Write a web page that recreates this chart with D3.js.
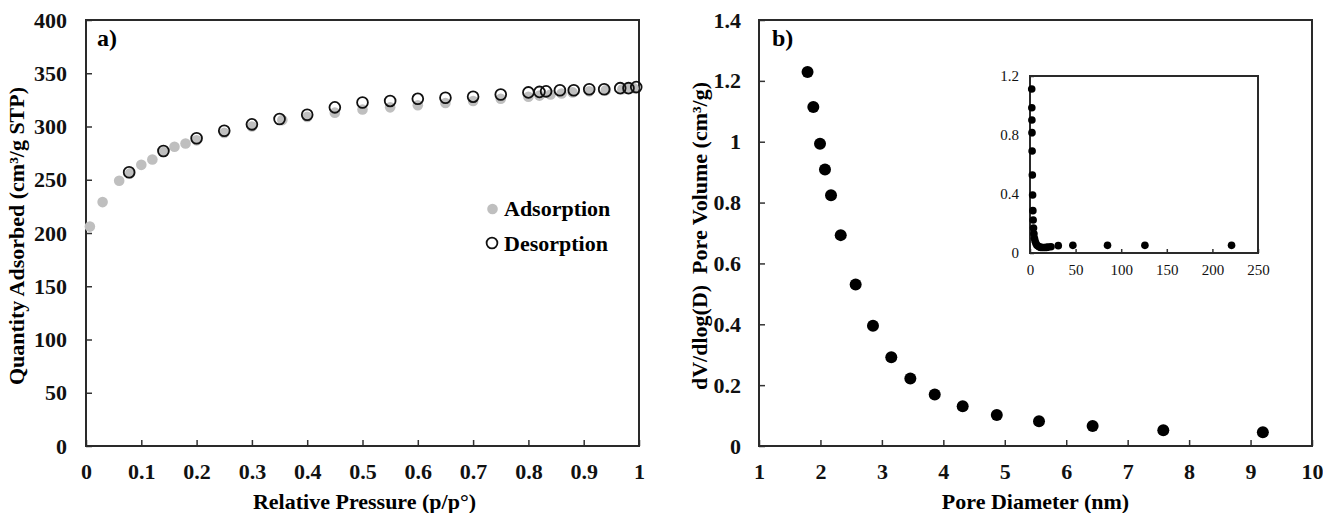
<!DOCTYPE html>
<html><head><meta charset="utf-8">
<script src="https://cdn.jsdelivr.net/npm/d3@7"></script>
<style>
html,body{margin:0;padding:0;background:#fff;}
text{font-family:"Liberation Serif","Times New Roman",serif;}
</style></head>
<body>
<svg id="c" width="1323" height="513"></svg>
<script>
// Panel a: N2 isotherm
const adsP = [0.007,0.03,0.06,0.08,0.10,0.12,0.14,0.16,0.18,0.20,0.25,0.30,0.355,0.40,0.45,0.50,0.55,0.60,0.65,0.70,0.75,0.80,0.82,0.84,0.86,0.88,0.91,0.94,0.97,0.98,0.99];
const adsQ = [206,229,249,256,264,269,276,281,284,287,294,300,306,309,313,316,318,320,322,324,326,328,329,330,331,332,333,334,335,335.5,336];
const desP = [0.078,0.14,0.20,0.25,0.30,0.35,0.40,0.45,0.50,0.55,0.60,0.65,0.70,0.75,0.80,0.82,0.832,0.857,0.882,0.91,0.937,0.966,0.981,0.995];
const desQ = [257,277,289,296,302,307,311,318,322.5,324,326,327,328,330,332,332.5,333,334,334,335,335,336,336,337];
const aXTicks = [0,0.1,0.2,0.3,0.4,0.5,0.6,0.7,0.8,0.9,1];
const aYTicks = [0,50,100,150,200,250,300,350,400];

// Panel b: pore size distribution
const poreD = [1.79,1.884,1.993,2.074,2.172,2.33,2.573,2.855,3.153,3.463,3.86,4.315,4.87,5.557,6.43,7.58,9.2];
const poreV = [1.229,1.114,0.993,0.909,0.824,0.693,0.531,0.395,0.292,0.222,0.169,0.131,0.102,0.081,0.066,0.052,0.045];
const bXTicks = [1,2,3,4,5,6,7,8,9,10];
const bYTicks = [0,0.2,0.4,0.6,0.8,1,1.2,1.4];

// Inset: full range
const insetD = [1.88,1.99,2.07,2.17,2.33,2.57,2.86,3.15,3.46,3.86,4.32,4.87,5.56,6.43,7.58,9.2,10.5,12,14,16,18,20,23,31,47,85,126,221];
const insetV = [1.112,0.985,0.902,0.816,0.692,0.529,0.393,0.287,0.224,0.169,0.131,0.10,0.081,0.066,0.052,0.045,0.04,0.038,0.037,0.037,0.038,0.04,0.042,0.05,0.052,0.052,0.052,0.052];
const inXTicks = [0,50,100,150,200,250];
const inYTicks = [0,0.4,0.8,1.2];

const svg = d3.select("#c");
const FS = 22;
const fmt = d => String(+(+d).toFixed(1));

function styleAxis(g, fs, bold){
  g.select(".domain").remove();
  g.selectAll(".tick line").attr("stroke","#333").attr("stroke-width",1.5);
  g.selectAll(".tick text").attr("fill","#111").attr("font-size",fs)
    .attr("font-weight", bold ? "bold" : "normal")
    .attr("font-family","Liberation Serif, Times New Roman, serif");
}

function panel(box, xDom, yDom, xT, yT, opts){
  const x = d3.scaleLinear().domain(xDom).range([box.l, box.r]);
  const y = d3.scaleLinear().domain(yDom).range([box.b, box.t]);
  const fs = opts.fs, bold = opts.bold;
  const gx = svg.append("g").attr("transform",`translate(0,${box.b})`)
    .call(d3.axisBottom(x).tickValues(xT).tickFormat(fmt).tickSizeInner(-opts.tick).tickSizeOuter(0).tickPadding(opts.xpad));
  styleAxis(gx, fs, bold);
  const gy = svg.append("g").attr("transform",`translate(${box.l},0)`)
    .call(d3.axisLeft(y).tickValues(yT).tickFormat(fmt).tickSizeInner(-opts.tick).tickSizeOuter(0).tickPadding(opts.ypad));
  styleAxis(gy, fs, bold);
  svg.append("rect").attr("x",box.l).attr("y",box.t).attr("width",box.r-box.l).attr("height",box.b-box.t)
    .attr("fill","none").attr("stroke","#2a2a2a").attr("stroke-width",opts.sw);
  return {x,y};
}

// ---- Panel a ----
const A = {l:86,r:639,t:20,b:446};
const pa = panel(A,[0,1],[0,400],aXTicks,aYTicks,{fs:FS,bold:true,tick:6,xpad:17,ypad:19,sw:2});
svg.append("g").selectAll("circle").data(adsP).join("circle")
  .attr("cx",(d)=>pa.x(d)).attr("cy",(d,i)=>pa.y(adsQ[i])).attr("r",5.3).attr("fill","#bfbfbf");
svg.append("g").selectAll("circle").data(desP).join("circle")
  .attr("cx",(d)=>pa.x(d)).attr("cy",(d,i)=>pa.y(desQ[i])).attr("r",5.4)
  .attr("fill","none").attr("stroke","#111").attr("stroke-width",1.8);
svg.append("text").attr("x",97).attr("y",46).attr("font-size",24).attr("font-weight","bold").text("a)");
// legend
svg.append("circle").attr("cx",492.5).attr("cy",209).attr("r",5.3).attr("fill","#bfbfbf");
svg.append("text").attr("x",504).attr("y",216).attr("font-size",22).attr("font-weight","bold").text("Adsorption");
svg.append("circle").attr("cx",492).attr("cy",243).attr("r",5.4).attr("fill","#fff").attr("stroke","#111").attr("stroke-width",1.8);
svg.append("text").attr("x",504).attr("y",250.5).attr("font-size",22).attr("font-weight","bold").text("Desorption");
svg.append("text").attr("x",(A.l+A.r)/2+2).attr("y",509).attr("text-anchor","middle").attr("font-size",FS).attr("font-weight","bold").text("Relative Pressure (p/p°)");
svg.append("text").attr("transform","translate(24,236) rotate(-90)").attr("text-anchor","middle").attr("font-size",FS).attr("font-weight","bold").text("Quantity Adsorbed (cm³/g STP)");

// ---- Panel b ----
const B = {l:759,r:1312,t:20,b:446};
const pb = panel(B,[1,10],[0,1.4],bXTicks,bYTicks,{fs:FS,bold:true,tick:6,xpad:17,ypad:18,sw:2});
svg.append("g").selectAll("circle").data(poreD).join("circle")
  .attr("cx",(d)=>pb.x(d)).attr("cy",(d,i)=>pb.y(poreV[i])).attr("r",6).attr("fill","#000");
svg.append("text").attr("x",772).attr("y",46).attr("font-size",24).attr("font-weight","bold").text("b)");
svg.append("text").attr("x",(B.l+B.r)/2).attr("y",509).attr("text-anchor","middle").attr("font-size",FS).attr("font-weight","bold").text("Pore Diameter (nm)");
svg.append("text").attr("transform","translate(707,236) rotate(-90)").attr("text-anchor","middle").attr("font-size",FS).attr("font-weight","bold").attr("xml:space","preserve").text("dV/dlog(D)  Pore Volume (cm³/g)");

// ---- Inset ----
const I = {l:1030,r:1258,t:76,b:253};
const pi = panel(I,[0,250],[0,1.2],inXTicks,inYTicks,{fs:15,bold:false,tick:4,xpad:11,ypad:11,sw:2});
svg.append("g").selectAll("circle").data(insetD).join("circle")
  .attr("cx",(d)=>pi.x(d)).attr("cy",(d,i)=>pi.y(insetV[i])).attr("r",3.8).attr("fill","#000");
</script>
</body></html>
